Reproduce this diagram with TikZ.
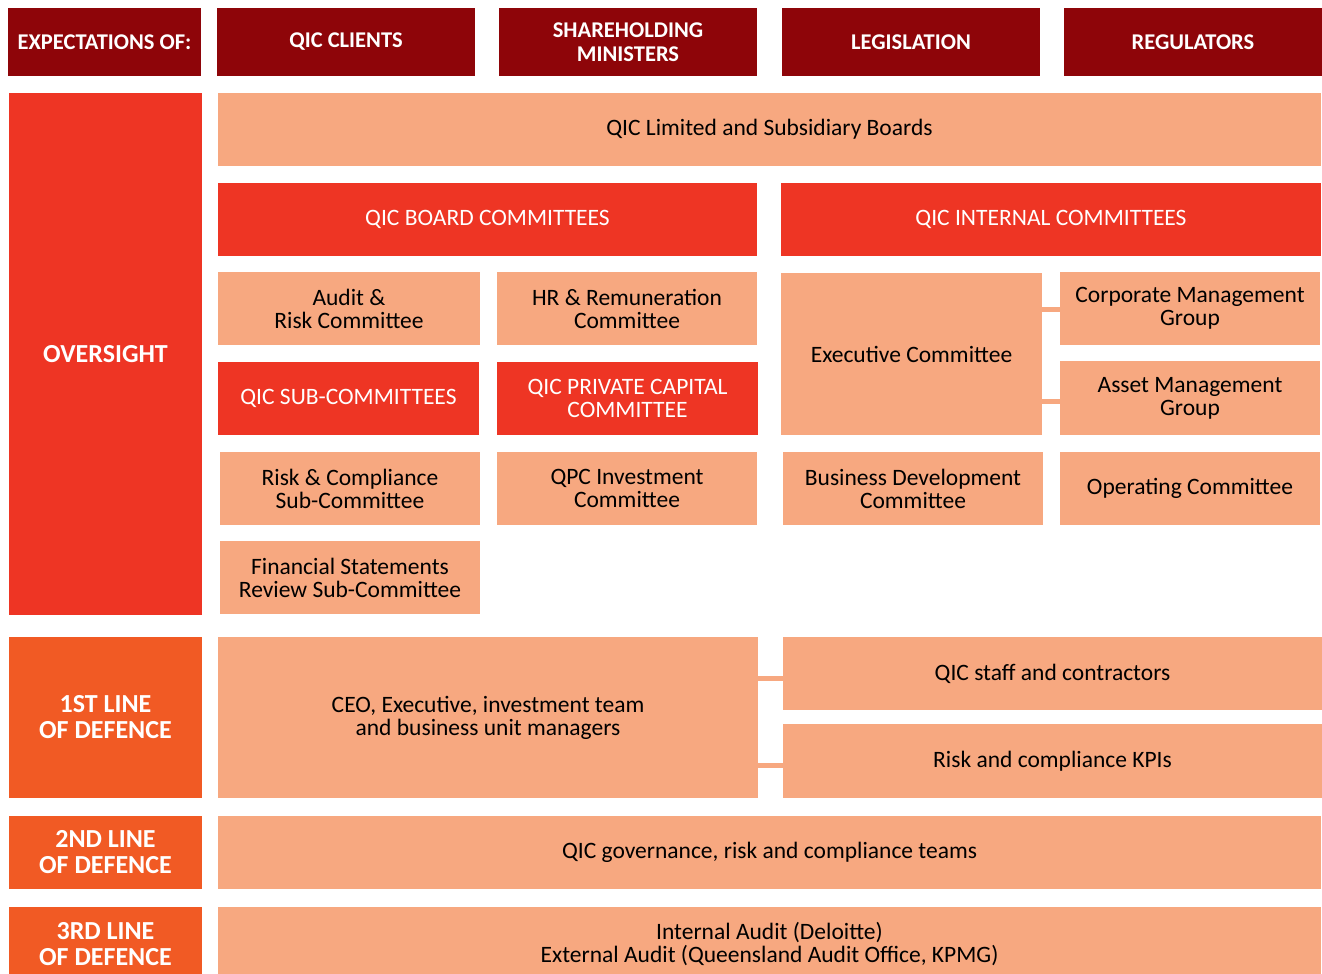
\documentclass[tikz,border=0pt]{standalone}
\usepackage{fontspec}
\setmainfont{Carlito}
\definecolor{darkred}{HTML}{8E0509}
\definecolor{brightred}{HTML}{EE3524}
\definecolor{lineorange}{HTML}{F15A24}
\definecolor{peach}{HTML}{F7A880}
\tikzset{
  x=1pt, y=-1pt,
  cell/.style={inner sep=0pt, outer sep=0pt, align=center, font=\fontsize{23.5}{23}\selectfont},
  headbox/.style={cell, fill=darkred, text=white, font=\fontsize{22.5}{24}\selectfont\bfseries},
  sidebox/.style={cell, text=white, font=\fontsize{26}{26}\selectfont\bfseries},
  redbox/.style={cell, fill=brightred, text=white},
  peachbox/.style={cell, fill=peach, text=black},
  link/.style={draw=peach, line width=5pt}
}
% \bx{style}{name}{x0}{y0}{x1}{y1}{text}
\newcommand\bx[7]{%
  \node[#1, minimum width=#5pt-#3pt, minimum height=#6pt-#4pt] (#2) at ({(#3+#5)/2},{(#4+#6)/2}) {#7};}
\begin{document}
\begin{tikzpicture}
\useasboundingbox (0,0) rectangle (1322,974);
\clip (0,0) rectangle (1322,974);
% header row
\bx{headbox}{exp}{8}{8}{201}{76}{EXPECTATIONS OF:}
\bx{headbox}{clients}{217}{8}{475}{76}{QIC CLIENTS}
\bx{headbox}{ministers}{499}{8}{757}{76}{SHAREHOLDING\\MINISTERS}
\bx{headbox}{legis}{782}{8}{1040}{76}{LEGISLATION}
\bx{headbox}{regul}{1064}{8}{1322}{76}{REGULATORS}
% left column
\bx{sidebox, fill=brightred}{oversight}{9}{93}{202}{615}{OVERSIGHT}
\bx{sidebox, fill=lineorange}{first}{9}{637}{202}{798}{1ST LINE\\OF DEFENCE}
\bx{sidebox, fill=lineorange}{second}{9}{816}{202}{889}{2ND LINE\\OF DEFENCE}
\bx{sidebox, fill=lineorange}{third}{9}{907}{202}{982}{3RD LINE\\OF DEFENCE}
% oversight structure
\bx{peachbox}{boards}{218}{93}{1321}{166}{QIC Limited and Subsidiary Boards}
\bx{redbox}{boardcom}{218}{183}{757}{256}{QIC BOARD COMMITTEES}
\bx{redbox}{intcom}{781}{183}{1321}{256}{QIC INTERNAL COMMITTEES}
\bx{peachbox}{audit}{218}{272}{480}{345}{Audit \&\\Risk Committee}
\bx{peachbox}{hr}{497}{272}{757}{345}{HR \& Remuneration\\Committee}
\bx{redbox}{subcom}{218}{362}{479}{435}{QIC SUB-COMMITTEES}
\bx{redbox}{qpc}{497}{362}{758}{435}{QIC PRIVATE CAPITAL\\COMMITTEE}
\bx{peachbox}{riskcomp}{220}{452}{480}{525}{Risk \& Compliance\\Sub-Committee}
\bx{peachbox}{qpcinv}{497}{452}{757}{525}{QPC Investment\\Committee}
\bx{peachbox}{finstat}{220}{541}{480}{614}{Financial Statements\\Review Sub-Committee}
\bx{peachbox}{exec}{781}{273}{1042}{435}{Executive Committee}
\bx{peachbox}{corp}{1060}{272}{1320}{345}{Corporate Management\\Group}
\bx{peachbox}{asset}{1060}{361}{1320}{435}{Asset Management\\Group}
\bx{peachbox}{busdev}{783}{452}{1043}{525}{Business Development\\Committee}
\bx{peachbox}{operating}{1060}{452}{1320}{525}{Operating Committee}
% first line
\bx{peachbox}{ceo}{218}{637}{758}{798}{CEO, Executive, investment team\\and business unit managers}
\bx{peachbox}{staff}{783}{637}{1322}{710}{QIC staff and contractors}
\bx{peachbox}{kpis}{783}{724}{1322}{798}{Risk and compliance KPIs}
% second and third lines
\bx{peachbox}{gov}{218}{816}{1321}{889}{QIC governance, risk and compliance teams}
\bx{peachbox}{audits}{218}{907}{1321}{982}{Internal Audit (Deloitte)\\External Audit (Queensland Audit Office, KPMG)}
% connectors
\draw[link] (exec.east |- 0,309) -- (corp.west |- 0,309);
\draw[link] (exec.east |- 0,401) -- (asset.west |- 0,401);
\draw[link] (ceo.east |- 0,678) -- (staff.west |- 0,678);
\draw[link] (ceo.east |- 0,765) -- (kpis.west |- 0,765);
\end{tikzpicture}
\end{document}
